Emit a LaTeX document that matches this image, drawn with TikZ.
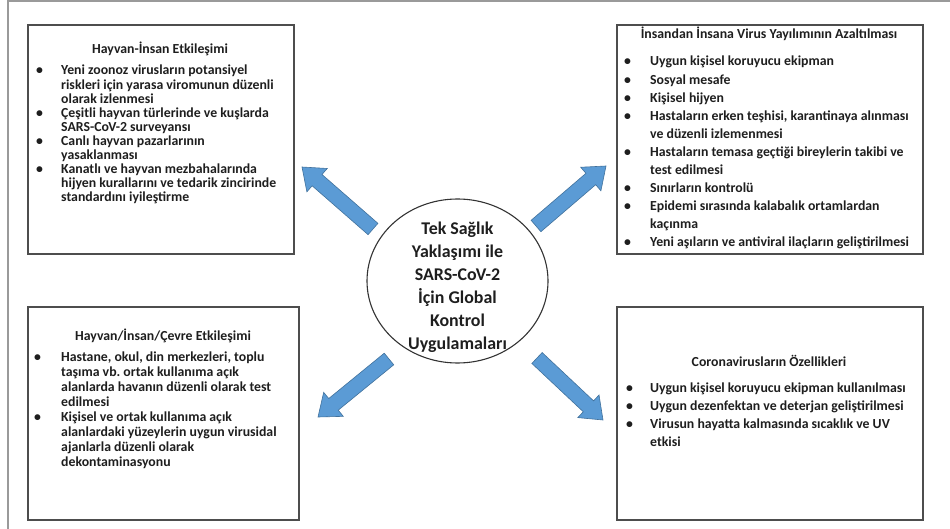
\documentclass[tikz,border=0pt]{standalone}
\usepackage{fontspec}
\setmainfont{Carlito}
\usetikzlibrary{calc,shapes.geometric}
\frenchspacing
\definecolor{txt}{HTML}{1E1E1E}
\definecolor{panelline}{HTML}{4D4D4D}
\definecolor{framegray}{HTML}{9A9A9A}
\definecolor{arrowfill}{HTML}{5B9BD5}
\definecolor{arrowline}{HTML}{41719C}
\newlength\bulw
\newcommand{\bitem}[1]{\makebox[\bulw][l]{\textbullet}#1\par}
\newcommand{\bcont}[1]{\hspace*{\bulw}#1\par}
\newcommand{\itemblock}[3]{% #1 bullet width, #2 baselineskip, #3 content
  \begin{minipage}[t]{300pt}\fontsize{13.8}{#2}\selectfont\bfseries\frenchspacing
  \lineskiplimit=-\maxdimen\setlength\bulw{#1}\parindent=0pt\parskip=0pt
  #3\end{minipage}}
\newcommand{\bigarrow}[2]{%
  \coordinate (#2base) at ($(#2)!20pt!(#1)$);
  \filldraw[bluearrow]
    ($(#1)!7.5pt!90:(#2)$) -- ($(#2base)!7.5pt!90:(#2)$) -- ($(#2base)!15.5pt!90:(#2)$)
    -- (#2) -- ($(#2base)!15.5pt!-90:(#2)$) -- ($(#2base)!7.5pt!-90:(#2)$)
    -- ($(#1)!7.5pt!-90:(#2)$) -- cycle;}
\begin{document}
\begin{tikzpicture}[x=1pt,y=-1pt,
  panel/.style={draw=panelline,line width=1.6pt,rectangle,inner sep=0pt,anchor=north west},
  heading/.style={font=\fontsize{13.8}{14}\selectfont\bfseries,text=txt,inner sep=0pt,anchor=base},
  items/.style={text=txt,inner sep=0pt,anchor=base west},
  bluearrow/.style={fill=arrowfill,draw=arrowline,line width=0.6pt,line join=miter},
  hub/.style={draw=black!80,line width=1.1pt,ellipse,minimum width=181pt,minimum height=164pt,inner sep=0pt},
  hubtext/.style={font=\fontsize{17.9}{23}\selectfont\bfseries,text=txt,align=center,inner sep=0pt},
  frame/.style={draw=framegray,line width=1.2pt}]
\useasboundingbox (0,0) rectangle (950,529);
% outer frame (top and left edges)
\coordinate (f1) at (8,1);
\coordinate (f2) at (950,1);
\coordinate (f3) at (8,529);
\draw[frame] (f2) -- (f1) -- (f3);

% panels
\node[panel,minimum width=266pt,minimum height=229pt] (tlbox) at (27,24) {};
\node[panel,minimum width=306pt,minimum height=229pt] (trbox) at (616,24) {};
\node[panel,minimum width=271pt,minimum height=213pt] (blbox) at (27,306) {};
\node[panel,minimum width=306pt,minimum height=213pt] (brbox) at (616,306) {};

% headings
\node[heading] (tlhead) at (160,54) {Hayvan-İnsan Etkileşimi};
\node[heading] (trhead) at (769,39) {İnsandan İnsana Virus Yayılımının Azaltılması};
\node[heading] (blhead) at (163,340) {Hayvan/İnsan/Çevre Etkileşimi};
\node[heading] (brhead) at (769,366) {Coronavirusların Özellikleri};

% items
\node[items] (tlitems) at (36,75) {\itemblock{25pt}{14.1}{%
\bitem{Yeni zoonoz virusların potansiyel}
\bcont{riskleri için yarasa viromunun düzenli}
\bcont{olarak izlenmesi}
\bitem{Çeşitli hayvan türlerinde ve kuşlarda}
\bcont{SARS-CoV-2 surveyansı}
\bitem{Canlı hayvan pazarlarının}
\bcont{yasaklanması}
\bitem{Kanatlı ve hayvan mezbahalarında}
\bcont{hijyen kurallarını ve tedarik zincirinde}
\bcont{standardını iyileştirme}}};

\node[items] (tritems) at (624,66) {\itemblock{26pt}{18.1}{%
\bitem{Uygun kişisel koruyucu ekipman}
\bitem{Sosyal mesafe}
\bitem{Kişisel hijyen}
\bitem{Hastaların erken teşhisi, karantinaya alınması}
\bcont{ve düzenli izlemenmesi}
\bitem{Hastaların temasa geçtiği bireylerin takibi ve}
\bcont{test edilmesi}
\bitem{Sınırların kontrolü}
\bitem{Epidemi sırasında kalabalık ortamlardan}
\bcont{kaçınma}
\bitem{Yeni aşıların ve antiviral ilaçların geliştirilmesi}}};

\node[items] (blitems) at (34,361) {\itemblock{27pt}{15.1}{%
\bitem{Hastane, okul, din merkezleri, toplu}
\bcont{taşıma vb. ortak kullanıma açık}
\bcont{alanlarda havanın düzenli olarak test}
\bcont{edilmesi}
\bitem{Kişisel ve ortak kullanıma açık}
\bcont{alanlardaki yüzeylerin uygun virusidal}
\bcont{ajanlarla düzenli olarak}
\bcont{dekontaminasyonu}}};

\node[items] (britems) at (626,392.7) {\itemblock{24pt}{18}{%
\bitem{Uygun kişisel koruyucu ekipman kullanılması}
\bitem{Uygun dezenfektan ve deterjan geliştirilmesi}
\bitem{Virusun hayatta kalmasında sıcaklık ve UV}
\bcont{etkisi}}};

% hub
\node[hub] (hub) at (457.5,281) {};
\node[hubtext] (hubtxt) at (457.5,287.5) {Tek Sağlık\\Yaklaşımı ile\\SARS-CoV-2\\İçin Global\\Kontrol\\Uygulamaları};

% block arrows
\coordinate (a1tail) at (373,229); \coordinate (a1tip) at (302,167);
\coordinate (a2tail) at (536,226); \coordinate (a2tip) at (606,166);
\coordinate (a3tail) at (389,359); \coordinate (a3tip) at (318,417);
\coordinate (a4tail) at (537,358); \coordinate (a4tip) at (603,420);
\bigarrow{a1tail}{a1tip}
\bigarrow{a2tail}{a2tip}
\bigarrow{a3tail}{a3tip}
\bigarrow{a4tail}{a4tip}
\end{tikzpicture}
\end{document}
